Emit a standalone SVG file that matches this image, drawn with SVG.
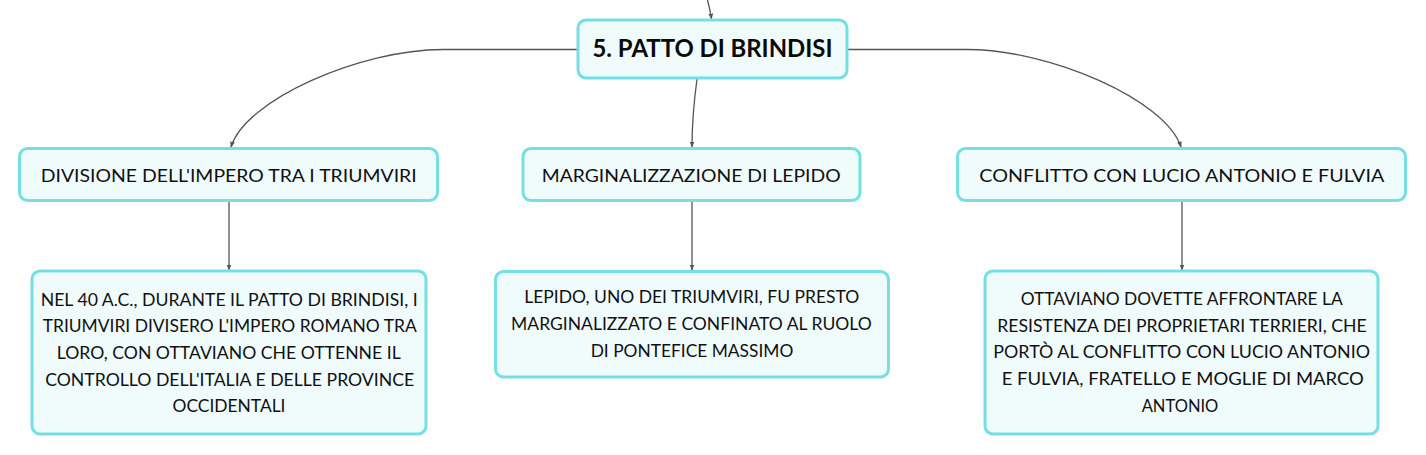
<svg xmlns="http://www.w3.org/2000/svg" width="1426" height="455" viewBox="0 0 1426 455">
  <defs>
    <marker id="arr" viewBox="0 0 10 10" refX="9" refY="5" markerWidth="6" markerHeight="6" markerUnits="userSpaceOnUse" orient="auto">
      <path d="M0,1 L10,5 L0,9 Z" fill="#555"/>
    </marker>
    <style>
      .box { fill: #f0fbfc; stroke: #74e0e4; stroke-width: 3; }
      .t { font-family: Lato, "Liberation Sans", sans-serif; font-size: 18px; fill: #111; text-anchor: middle; }
      .root { font-family: Lato, "Liberation Sans", sans-serif; font-size: 24px; font-weight: bold; fill: #0a0a0a; text-anchor: middle; }
      .c { fill: none; stroke: #555; stroke-width: 1.3; marker-end: url(#arr); }
    </style>
  </defs>
  <rect width="1426" height="455" fill="#ffffff"/>

  <g id="connectors">
    <path class="c" d="M707.5,0 C709,6 710.5,12 711.5,19"/>
    <path class="c" d="M577,49.5 L443,49.5 C360,49.5 245,100 231,147"/>
    <path class="c" d="M697,79 C693.5,105 692,125 692,147"/>
    <path class="c" d="M847,49.5 L967,49.5 C1050,49.5 1166,100 1181,147"/>
    <path class="c" d="M229,201 L229,270"/>
    <path class="c" d="M692,201 L692,270"/>
    <path class="c" d="M1182,201 L1182,270"/>
  </g>

  <g id="node-root">
    <rect class="box" x="578" y="20" width="269" height="58" rx="8"/>
    <text class="root" x="712.5" y="57" textLength="240" lengthAdjust="spacingAndGlyphs">5. PATTO DI BRINDISI</text>
  </g>

  <g id="node-divisione">
    <rect class="box" x="19.5" y="148.5" width="418" height="52" rx="8"/>
    <text class="t" x="228.7" y="182.3" textLength="376" lengthAdjust="spacingAndGlyphs">DIVISIONE DELL'IMPERO TRA I TRIUMVIRI</text>
  </g>

  <g id="node-marginalizzazione">
    <rect class="box" x="523" y="148.5" width="337" height="52" rx="8"/>
    <text class="t" x="691.2" y="182.3" textLength="299" lengthAdjust="spacingAndGlyphs">MARGINALIZZAZIONE DI LEPIDO</text>
  </g>

  <g id="node-conflitto">
    <rect class="box" x="957.5" y="148.5" width="448" height="52" rx="8"/>
    <text class="t" x="1181.8" y="182.3" textLength="405" lengthAdjust="spacingAndGlyphs">CONFLITTO CON LUCIO ANTONIO E FULVIA</text>
  </g>

  <g id="node-divisione-desc">
    <rect class="box" x="32" y="271" width="394" height="163" rx="8"/>
    <text class="t" x="229.2" y="305.5" textLength="377" lengthAdjust="spacingAndGlyphs">NEL 40 A.C., DURANTE IL PATTO DI BRINDISI, I</text>
    <text class="t" x="229.7" y="332.2" textLength="374" lengthAdjust="spacingAndGlyphs">TRIUMVIRI DIVISERO L'IMPERO ROMANO TRA</text>
    <text class="t" x="228.7" y="358.8" textLength="344" lengthAdjust="spacingAndGlyphs">LORO, CON OTTAVIANO CHE OTTENNE IL</text>
    <text class="t" x="229.7" y="385.5" textLength="369" lengthAdjust="spacingAndGlyphs">CONTROLLO DELL'ITALIA E DELLE PROVINCE</text>
    <text class="t" x="229" y="412" textLength="113" lengthAdjust="spacingAndGlyphs">OCCIDENTALI</text>
  </g>

  <g id="node-marginalizzazione-desc">
    <rect class="box" x="495.5" y="271.5" width="393" height="105.5" rx="8"/>
    <text class="t" x="691.8" y="303.3" textLength="335" lengthAdjust="spacingAndGlyphs">LEPIDO, UNO DEI TRIUMVIRI, FU PRESTO</text>
    <text class="t" x="691.4" y="330" textLength="360.7" lengthAdjust="spacingAndGlyphs">MARGINALIZZATO E CONFINATO AL RUOLO</text>
    <text class="t" x="692" y="356.7" textLength="202.7" lengthAdjust="spacingAndGlyphs">DI PONTEFICE MASSIMO</text>
  </g>

  <g id="node-conflitto-desc">
    <rect class="box" x="985" y="271" width="393" height="163" rx="8"/>
    <text class="t" x="1181.7" y="305" textLength="322" lengthAdjust="spacingAndGlyphs">OTTAVIANO DOVETTE AFFRONTARE LA</text>
    <text class="t" x="1182" y="331.7" textLength="369.3" lengthAdjust="spacingAndGlyphs">RESISTENZA DEI PROPRIETARI TERRIERI, CHE</text>
    <text class="t" x="1181.7" y="358.3" textLength="376.7" lengthAdjust="spacingAndGlyphs">PORTÒ AL CONFLITTO CON LUCIO ANTONIO</text>
    <text class="t" x="1182.8" y="385" textLength="362.3" lengthAdjust="spacingAndGlyphs">E FULVIA, FRATELLO E MOGLIE DI MARCO</text>
    <text class="t" x="1180" y="412" textLength="76.7" lengthAdjust="spacingAndGlyphs">ANTONIO</text>
  </g>
</svg>
